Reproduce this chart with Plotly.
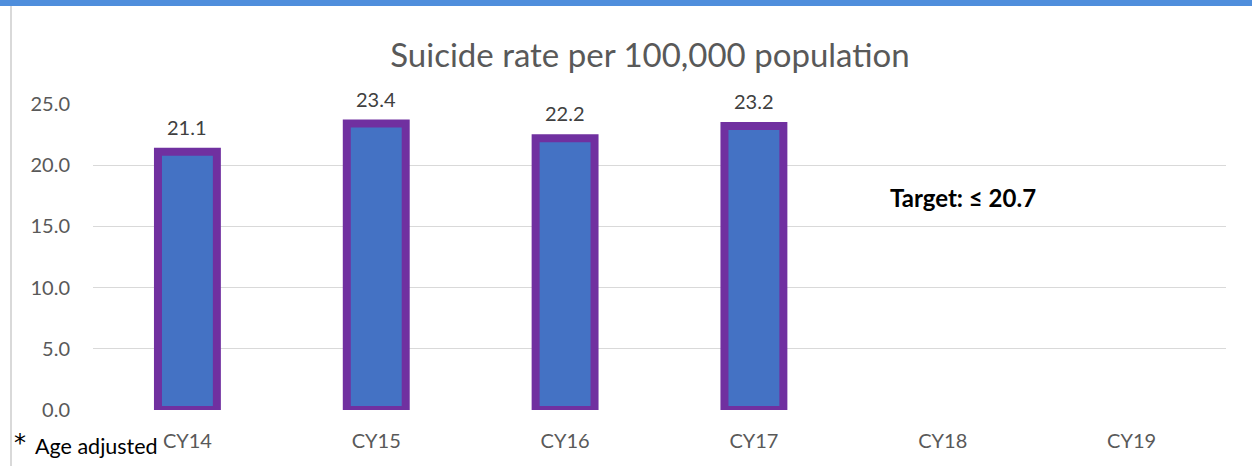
import plotly.graph_objects as go

categories = ["CY14", "CY15", "CY16", "CY17", "CY18", "CY19"]
rates = [21.1, 23.4, 22.2, 23.2, None, None]
labels = ["21.1", "23.4", "22.2", "23.2", "", ""]
y_ticks = [0, 5, 10, 15, 20, 25]
y_tick_text = ["0.0", "5.0", "10.0", "15.0", "20.0", "25.0"]

W, H = 1252, 466
L, R, T, B = 93, 1226, 104, 410

def px(x):
    return (x - L) / (R - L)

def py(y):
    return (B - y) / (B - T)

FONT = "Lato"

fig = go.Figure()
fig.add_trace(go.Bar(
    x=categories, y=rates, width=0.312,
    marker=dict(color="#4472C4", line=dict(color="#7030A0", width=8)),
    cliponaxis=False, hoverinfo="skip",
))

value_labels = [
    dict(text=t, x=c, y=v, xref="x", yref="y", yshift=25,
         xanchor="center", yanchor="middle", showarrow=False,
         font=dict(family=FONT, size=20, color="#404040"))
    for c, v, t in zip(categories, rates, labels) if v is not None
]

fig.update_layout(
    width=W, height=H,
    margin=dict(l=L, r=W - R, t=T, b=H - B),
    paper_bgcolor="white", plot_bgcolor="white",
    showlegend=False,
    bargap=0.688,
    title=dict(text="Suicide rate per 100,000 population",
               x=650 / W, xref="container", xanchor="center",
               y=1 - 55 / H, yref="container", yanchor="middle",
               font=dict(family=FONT, size=33, color="#595959")),
    xaxis=dict(showgrid=False, showline=False, ticks="",
               tickfont=dict(family=FONT, size=20, color="#595959"),
               ticklabelstandoff=17),
    yaxis=dict(range=[0, 25], tickvals=y_ticks, ticktext=y_tick_text,
               showgrid=True, gridcolor="#d9d9d9", gridwidth=1,
               zeroline=False, showline=False, ticks="",
               tickfont=dict(family=FONT, size=20, color="#595959"),
               ticklabelstandoff=22),
    shapes=[
        dict(type="rect", xref="paper", yref="paper",
             x0=px(0), x1=px(W), y0=py(6), y1=py(0),
             fillcolor="#4F8EDC", line=dict(width=0), layer="above"),
        dict(type="line", xref="paper", yref="paper",
             x0=px(11), x1=px(11), y0=py(6), y1=py(H),
             line=dict(color="#D9D9D9", width=2)),
    ],
    annotations=value_labels + [
        dict(text="<b>Target: ≤ 20.7</b>", xref="paper", yref="paper",
             x=px(888), y=py(197), xanchor="left", yanchor="middle",
             showarrow=False, font=dict(family=FONT, size=24, color="black")),
        dict(text="*", xref="paper", yref="paper",
             x=px(12), y=py(443), xanchor="left", yanchor="middle",
             showarrow=False, font=dict(family="DejaVu Sans", size=24, color="black")),
        dict(text="Age adjusted", xref="paper", yref="paper",
             x=px(33), y=py(446), xanchor="left", yanchor="middle",
             showarrow=False, font=dict(family=FONT, size=21.5, color="black")),
    ],
)

fig.write_html("out.html", config={"displayModeBar": False},
               post_script="document.body.style.margin='0';")
